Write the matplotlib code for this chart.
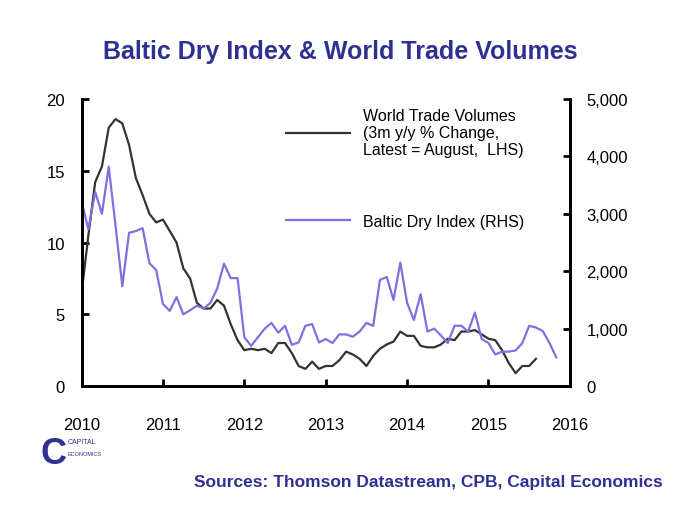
import numpy as np
import matplotlib.pyplot as plt

trade = [6.5, 10.5, 14.2, 15.3, 18.0, 18.6, 18.3, 16.8, 14.5, 13.3, 12.0, 11.4,
         11.6, 10.8, 10.0, 8.2, 7.5, 5.8, 5.4, 5.4, 6.0, 5.6, 4.3, 3.2,
         2.5, 2.6, 2.5, 2.6, 2.3, 3.0, 3.0, 2.3, 1.4, 1.2, 1.7, 1.2,
         1.4, 1.4, 1.8, 2.4, 2.2, 1.9, 1.4, 2.1, 2.6, 2.9, 3.1, 3.8,
         3.5, 3.5, 2.8, 2.7, 2.7, 2.9, 3.3, 3.2, 3.8, 3.8, 3.9, 3.6,
         3.3, 3.2, 2.5, 1.6, 0.9, 1.4, 1.4, 1.9]
bdi = [3220, 2730, 3380, 3000, 3820, 2800, 1740, 2670, 2700, 2750, 2140, 2020,
       1430, 1310, 1550, 1250, 1320, 1400, 1350, 1450, 1700, 2130, 1880, 1880,
       850, 700, 850, 1000, 1100, 930, 1050, 720, 760, 1050, 1080, 760,
       820, 750, 900, 900, 860, 950, 1100, 1050, 1850, 1900, 1500, 2150,
       1450, 1150, 1600, 950, 1000, 880, 750, 1050, 1050, 950, 1280, 820,
       750, 550, 600, 600, 620, 750, 1050, 1020, 960, 750, 500]
years = [2010, 2011, 2012, 2013, 2014, 2015, 2016]

x_trade = 2010 + np.arange(len(trade)) / 12
x_bdi = 2010 + np.arange(len(bdi)) / 12

plt.rcParams['font.family'] = ['Liberation Sans', 'DejaVu Sans']
fig = plt.figure(figsize=(6.8, 5.1), dpi=100)
ax1 = fig.add_axes([0.12, 0.241, 0.718, 0.563])
ax2 = ax1.twinx()

ax1.plot(x_trade, trade, color='#333333', lw=1.6, label='World Trade Volumes\n(3m y/y % Change,\nLatest = August,  LHS)')
ax2.plot(x_bdi, bdi, color='#7b72e0', lw=1.6, label='Baltic Dry Index (RHS)')

ax1.set_xlim(2010, 2016)
ax1.set_ylim(0, 20)
ax2.set_ylim(0, 5000)
ax1.set_xticks(years)
ax1.set_yticks([0, 5, 10, 15, 20])
ax2.set_yticks([0, 1000, 2000, 3000, 4000, 5000])
ax2.set_yticklabels(['0', '1,000', '2,000', '3,000', '4,000', '5,000'])
for ax in (ax1, ax2):
    ax.spines['top'].set_visible(False)
    ax.spines[['left', 'right', 'bottom']].set_linewidth(2)
    ax.tick_params(labelsize=12, width=2, length=5)
ax1.tick_params(axis='x', direction='in', pad=22)
ax1.tick_params(axis='y', direction='in', pad=12)
ax2.tick_params(axis='y', direction='in', pad=12)

h1, l1 = ax1.get_legend_handles_labels()
h2, l2 = ax2.get_legend_handles_labels()
ax1.legend(h1, l1, loc='upper left', bbox_to_anchor=(0.39, 1.02), frameon=False,
           fontsize=11.5, handlelength=4)
ax2.legend(h2, l2, loc='upper left', bbox_to_anchor=(0.39, 0.65), frameon=False,
           fontsize=11.5, handlelength=4)

fig.text(0.5, 0.885, 'Baltic Dry Index & World Trade Volumes', ha='center',
         fontsize=18, fontweight='bold', color='#2e3192')
fig.text(0.975, 0.045, 'Sources: Thomson Datastream, CPB, Capital Economics', ha='right',
         fontsize=12.5, fontweight='bold', color='#2e3192')
fig.text(0.06, 0.09, 'C', fontsize=26, color='#2e3192', fontweight='bold')
fig.text(0.1, 0.13, 'CAPITAL', fontsize=5, color='#2e3192')
fig.text(0.1, 0.105, 'ECONOMICS', fontsize=4, color='#2e3192')

fig.savefig('out.png', dpi=100)
